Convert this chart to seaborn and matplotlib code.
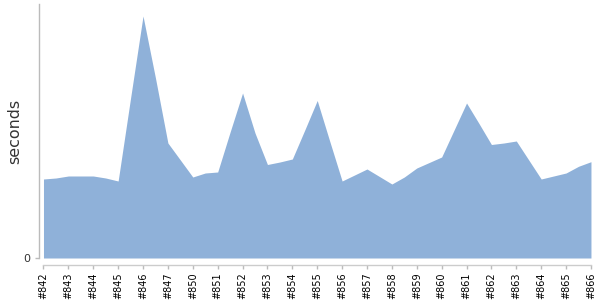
import matplotlib
matplotlib.use("Agg")
import matplotlib.pyplot as plt
import seaborn as sns
import numpy as np
import pandas as pd

# Tick labels (shown on every second data point)
tick_labels = ["#842", "#843", "#844", "#845", "#846", "#847", "#850", "#851",
               "#852", "#853", "#854", "#855", "#856", "#857", "#858", "#859",
               "#860", "#861", "#862", "#863", "#864", "#865", "#866"]

# Series values (seconds), 45 points
seconds = [79, 80, 82, 82, 82, 80, 77, 160, 242, 180, 115, 98, 81, 85, 86, 126,
           165, 125, 93.5, 96, 99, 128, 157.5, 117, 77, 83, 89, 81.5, 74, 81,
           90, 95.5, 101, 128, 155, 134.5, 113.5, 115, 117, 98, 79, 82, 85,
           91.7, 96.3]

df = pd.DataFrame({"idx": np.arange(len(seconds)), "seconds": seconds})

sns.set_theme(style="white")
plt.rcParams['font.family'] = ['DejaVu Sans']

fig = plt.figure(figsize=(6, 3), dpi=100)
ax = fig.add_axes([38.5 / 600, 42 / 300, (594.7 - 38.5) / 600, 254 / 300])

sns.lineplot(data=df, x="idx", y="seconds", ax=ax, color="#8FB1D9", linewidth=0)
ax.fill_between(df["idx"], 0, df["seconds"], color="#8FB1D9", linewidth=0)

ax.set_xlim(-0.4, 44.3)
ax.set_ylim(0, 254)

for s in ["top", "right"]:
    ax.spines[s].set_visible(False)
ax.spines["left"].set_color("#bbbbbb")
ax.spines["left"].set_linewidth(1)
ax.spines["bottom"].set_color("#cccccc")
ax.spines["bottom"].set_linewidth(1)
ax.spines["bottom"].set_position(("outward", 5))
ax.spines["bottom"].set_bounds(0, 44)

ax.tick_params(axis="x", direction="out", length=3, width=1, color="#bbbbbb", pad=2.5,
               bottom=True, labelrotation=90, labelsize=7, labelcolor="#000000")
ax.tick_params(axis="y", direction="out", length=3, width=1, color="#bbbbbb", pad=3,
               left=True, labelsize=8, labelcolor="#333333")

ax.set_xticks(np.arange(0, len(seconds), 2))
ax.set_xticklabels(tick_labels)
ax.set_yticks([0])
ax.set_yticklabels(["0"])

ax.set_xlabel("")
ax.set_ylabel("seconds", fontsize=11.4, color="#333333")
ax.yaxis.set_label_coords(-0.03, 0.5)

fig.savefig("out.png", dpi=100)
